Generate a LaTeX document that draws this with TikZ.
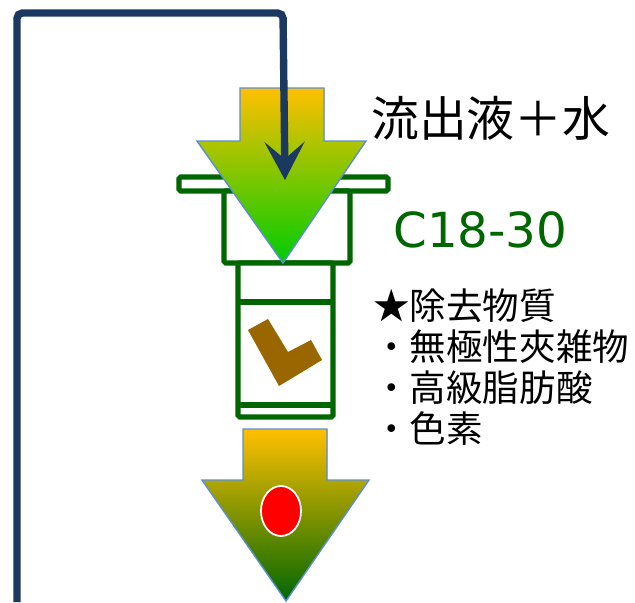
\documentclass[tikz,border=0pt]{standalone}
\usepackage{fontspec}
\newfontfamily\cjk{Noto Sans CJK JP}
\newfontfamily\latin{DejaVu Sans}
\usetikzlibrary{arrows.meta}
\definecolor{navy}{RGB}{27,56,96}
\definecolor{colgreen}{RGB}{0,102,0}
\definecolor{amber}{RGB}{255,192,0}
\definecolor{leaf}{RGB}{0,204,0}
\definecolor{edgeblue}{RGB}{91,143,213}
\definecolor{resin}{RGB}{153,102,0}

\begin{document}
\begin{tikzpicture}[x=0.02cm, y=-0.02cm,
  flow/.style={draw=edgeblue, line width=0.8pt, line join=miter},
  wall/.style={draw=colgreen, line width=2.9pt, rounded corners=1pt},
  label/.style={anchor=west, inner sep=0pt, font=\cjk\fontsize{20.8}{24}\selectfont}]
\useasboundingbox (0,0) rectangle (635,602);

% cartridge: flange, reservoir, packed bed
\draw[wall, fill=white] (179,177) rectangle (388,191);
\draw[wall, fill=white] (224,191) rectangle (350,263);
\draw[wall, fill=white] (238,263) rectangle (333,417);
\foreach \y in {302,405} {
 \draw[colgreen, line width=2.9pt] (238,\y) -- (333,\y);
}
\fill[resin] (248,330) -- (268,319) -- (288,352) -- (311,340) -- (322,360) -- (279,386) -- cycle;

% sample going in
\filldraw[flow, top color=amber, bottom color=leaf] (240,88) -- (324,88) -- (324,141) -- (366,141)
  -- (283,263) -- (197,141) -- (240,141) -- cycle;

% eluate coming out
\filldraw[flow, top color=amber, bottom color=colgreen] (243,429) -- (327,429) -- (327,480) -- (369,480)
  -- (286,601) -- (202,480) -- (243,480) -- cycle;
\filldraw[fill=red, draw=white, line width=1pt] (281,511) ellipse (20 and 25);

\node[label, font=\cjk\fontsize{27.2}{30}\selectfont] (eluent) at (371,118) {流出液＋水};
\node[anchor=west, inner sep=0pt, text=colgreen, font=\latin\fontsize{27.5}{30}\selectfont] (phase) at (393,230) {C18-30};
\foreach \t [count=\i] in {★除去物質, ・無極性夾雑物, ・高級脂肪酸, ・色素} {
 \node[label] (item\i) at (373,265+41*\i) {\t};
}

% recycle line
\coordinate (drain) at (17,602);
\coordinate (inlet) at (285,180);
\draw[navy, line width=4.2pt, rounded corners=3pt, -{Stealth[length=0.76cm, width=0.8cm, inset=0.34cm]}]
  (drain) |- (283,13) -- (inlet);
\end{tikzpicture}
\end{document}
